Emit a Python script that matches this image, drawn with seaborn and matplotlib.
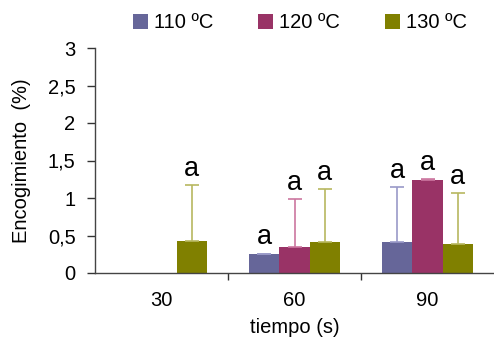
import numpy as np
import pandas as pd
import matplotlib
matplotlib.use("Agg")
import matplotlib.pyplot as plt
import seaborn as sns
from matplotlib.patches import Patch

sns.set_style("ticks")
plt.rcParams['font.family'] = ['Liberation Sans', 'DejaVu Sans']
plt.rcParams['text.color'] = 'black'
plt.rcParams['axes.labelcolor'] = 'black'
plt.rcParams['xtick.labelcolor'] = 'black'
plt.rcParams['ytick.labelcolor'] = 'black'

tiempos = ["30", "60", "90"]
temps = ["110 ºC", "120 ºC", "130 ºC"]
v110 = [np.nan, 0.25, 0.41]
v120 = [np.nan, 0.35, 1.24]
v130 = [0.43, 0.41, 0.39]
e110 = [np.nan, 0.01, 0.74]
e120 = [np.nan, 0.64, 0.01]
e130 = [0.74, 0.71, 0.68]
letras = ["a", "a", "a"]
yticks = [0, 0.5, 1, 1.5, 2, 2.5, 3]
ytick_labels = ["0", "0,5", "1", "1,5", "2", "2,5", "3"]

colors = ["#666699", "#993366", "#808000"]
err_colors = ["#9a9ac8", "#cc77a0", "#b8b860"]

rows = []
for t_i, t in enumerate(tiempos):
    for h, vals, errs in zip(temps, [v110, v120, v130], [e110, e120, e130]):
        rows.append({"tiempo": t, "temp": h, "val": vals[t_i], "err": errs[t_i]})
df = pd.DataFrame(rows)

fig = plt.figure(figsize=(4.94, 3.47), dpi=100)
ax = fig.add_axes([95/494, 1-273/347, 399/494, 225/347])

sns.barplot(data=df, x="tiempo", y="val", hue="temp", order=tiempos, hue_order=temps,
            palette=colors, width=0.68, saturation=1, errorbar=None, ax=ax,
            legend=False, edgecolor="none", linewidth=0)

bar_containers = list(ax.containers)
for h_i, cont in enumerate(bar_containers):
    h = temps[h_i]
    for bar in cont:
        height = bar.get_height()
        if not np.isfinite(height) or height == 0:
            continue
        xc = bar.get_x() + bar.get_width() / 2
        cat = tiempos[int(round(xc))]
        err = df[(df.tiempo == cat) & (df.temp == h)]["err"].values[0]
        ax.errorbar(xc, height, yerr=[[0], [err]], fmt="none", ecolor=err_colors[h_i],
                    elinewidth=1.2, capsize=5, capthick=1.2, zorder=3)
        ax.text(xc, height + err + 0.04, letras[h_i], ha="center", va="bottom",
                fontsize=19.5, color="black")

ax.set_ylim(0, 3)
ax.set_xlim(-0.5, 2.5)
ax.set_yticks(yticks)
ax.set_yticklabels(ytick_labels, fontsize=14.5)
ax.set_xticks([0, 1, 2])
ax.set_xticklabels(tiempos, fontsize=14.5)
ax.set_xticks([0.5, 1.5], minor=True)
ax.tick_params(axis="x", which="major", length=0, pad=13)
ax.tick_params(axis="x", which="minor", length=5, width=1, color="#333333")
ax.tick_params(axis="y", length=6, width=1, color="#333333", pad=8)
for s in ["top", "right"]:
    ax.spines[s].set_visible(False)
for s in ["left", "bottom"]:
    ax.spines[s].set_color("#444444")
    ax.spines[s].set_linewidth(1)
ax.set_xlabel("tiempo (s)", fontsize=14.5, labelpad=6)
ax.set_ylabel("Encogimiento  (%)", fontsize=14.5, labelpad=12)

handles = [Patch(facecolor=c, edgecolor="none") for c in colors]
fig.legend(handles, temps, loc="center", bbox_to_anchor=(300/494, 1-23/347), ncol=3,
           frameon=False, fontsize=14.5, handlelength=0.75, handleheight=0.75,
           handletextpad=0.3, columnspacing=2.2)

fig.savefig("out.png", dpi=100)
